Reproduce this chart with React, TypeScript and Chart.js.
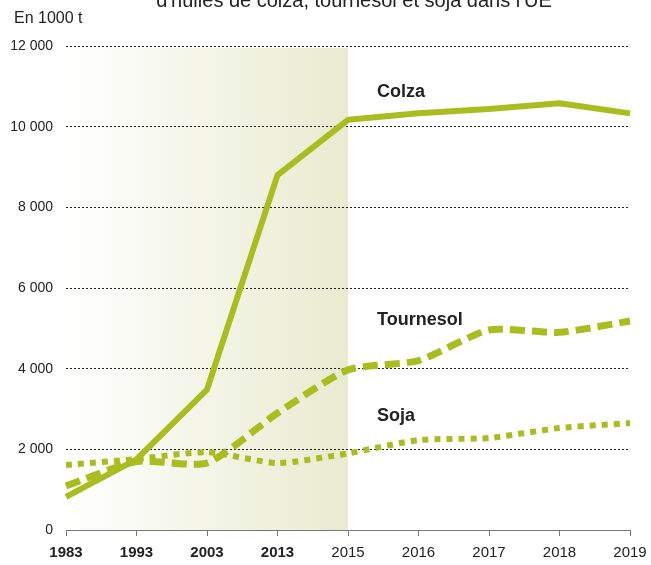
import React, { useEffect, useRef } from "react";
import { Chart, registerables } from "chart.js";

Chart.register(...registerables);

const categories = ["1983", "1993", "2003", "2013", "2015", "2016", "2017", "2018", "2019"];
const colza = [820, 1750, 3480, 8800, 10170, 10330, 10440, 10580, 10330];
const tournesol = [1090, 1700, 1660, 2900, 3970, 4200, 4960, 4900, 5180];
const soja = [1610, 1760, 1930, 1660, 1900, 2230, 2280, 2530, 2650];
const boldCategoryCount = 4;
const shadedFromIndex = 0;
const shadedToIndex = 4;
const seriesNames = ["Colza", "Tournesol", "Soja"];
const seriesLabelValues = [10860, 5200, 2820];
const yMin = 0;
const yMax = 12000;
const yStep = 2000;
const titleText = "d'huiles de colza, tournesol et soja dans l'UE";
const unitText = "En 1000 t";

const GREEN = "#a9bd1f";
const FONT = "'Liberation Sans', Arial, Helvetica, sans-serif";

function fmt(v: number): string {
  if (v === 0) return "0";
  const th = Math.floor(v / 1000);
  const rest = String(v % 1000).padStart(3, "0");
  return `${th} ${rest}`;
}

const decorPlugin = {
  id: "decor",
  beforeDraw(chart: any) {
    const { ctx, chartArea, scales } = chart;
    const x0 = scales.x.getPixelForValue(shadedFromIndex);
    const x1 = scales.x.getPixelForValue(shadedToIndex);
    const g = ctx.createLinearGradient(x0, 0, x1, 0);
    g.addColorStop(0, "rgba(255,255,255,1)");
    g.addColorStop(1, "#e8ebcf");
    ctx.save();
    ctx.fillStyle = g;
    ctx.fillRect(x0, chartArea.top + 2, x1 - x0, chartArea.bottom - chartArea.top - 2);
    ctx.restore();
  },
  afterDraw(chart: any) {
    const { ctx, scales } = chart;
    ctx.save();
    ctx.fillStyle = "#222";
    ctx.font = `20px ${FONT}`;
    ctx.textAlign = "center";
    ctx.textBaseline = "alphabetic";
    ctx.fillText(titleText, 354, 7);
    ctx.font = `16px ${FONT}`;
    ctx.textAlign = "left";
    ctx.fillText(unitText, 14, 23);
    ctx.font = `bold 18px ${FONT}`;
    ctx.textBaseline = "middle";
    const lx = scales.x.getPixelForValue(shadedToIndex) + 29;
    seriesNames.forEach((n, i) => {
      ctx.fillText(n, lx, scales.y.getPixelForValue(seriesLabelValues[i]));
    });
    ctx.restore();
  },
};

export default function App() {
  const ref = useRef<HTMLCanvasElement | null>(null);
  useEffect(() => {
    if (!ref.current) return;
    const chart = new Chart(ref.current, {
      type: "line",
      data: {
        labels: categories,
        datasets: [
          {
            label: seriesNames[0],
            data: colza,
            borderColor: GREEN,
            borderWidth: 6,
            pointRadius: 0,
            tension: 0,
            borderJoinStyle: "round",
          },
          {
            label: seriesNames[1],
            data: tournesol,
            borderColor: GREEN,
            borderWidth: 7,
            borderDash: [15, 7],
            pointRadius: 0,
            tension: 0.2,
          },
          {
            label: seriesNames[2],
            data: soja,
            borderColor: GREEN,
            borderWidth: 6,
            borderDash: [6, 6],
            pointRadius: 0,
            tension: 0.2,
          },
        ],
      },
      options: {
        responsive: false,
        animation: false,
        layout: { padding: { top: 46, right: 21, left: 0, bottom: 0 } },
        plugins: {
          legend: { display: false },
          tooltip: { enabled: false },
          title: { display: false },
        },
        scales: {
          x: {
            offset: false,
            grid: { drawOnChartArea: false, drawTicks: true, tickLength: 6, color: "#777" },
            border: { display: true, color: "#777", width: 1 },
            ticks: {
              color: "#222",
              padding: 8,
              maxRotation: 0,
              autoSkip: false,
              font: (c: any) => ({
                family: FONT,
                size: 15,
                weight: c.index < boldCategoryCount ? "bold" : "normal",
              }),
            },
            afterFit: (s: any) => {
              s.height = 35;
              s.paddingLeft = 0;
              s.paddingRight = 0;
            },
          },
          y: {
            min: yMin,
            max: yMax,
            grid: { drawTicks: false, color: "#222", lineWidth: 1 },
            border: { display: false, dash: [2, 2] },
            ticks: {
              stepSize: yStep,
              padding: 13,
              color: "#222",
              font: { family: FONT, size: 14 },
              callback: (v: any) => fmt(Number(v)),
            },
            afterFit: (s: any) => {
              s.width = 66;
            },
          },
        },
      },
      plugins: [decorPlugin],
    } as any);
    return () => chart.destroy();
  }, []);
  return (
    <div style={{ position: "absolute", left: 0, top: 0, width: 651, height: 565, background: "#fff" }}>
      <canvas ref={ref} width={651} height={565} style={{ display: "block" }} />
    </div>
  );
}
